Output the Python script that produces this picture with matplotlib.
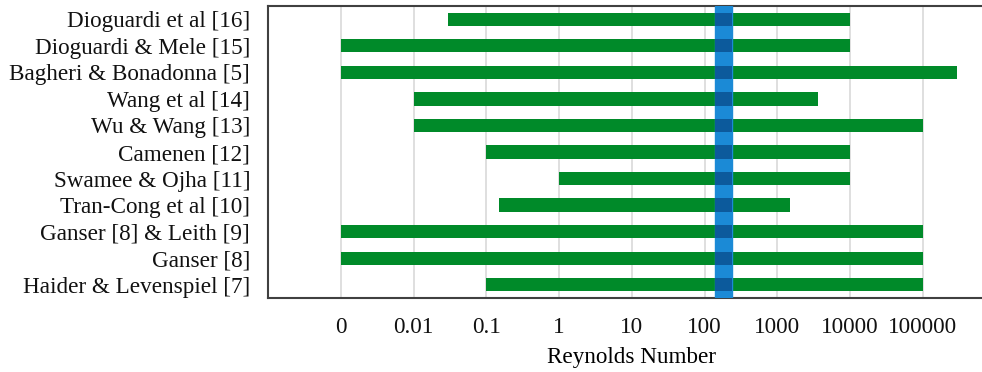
import matplotlib
matplotlib.use('Agg')
import matplotlib.pyplot as plt


# validity ranges of the drag correlations (Reynolds number)
MODELS = ['Dioguardi et al [16]', 'Dioguardi & Mele [15]',
          'Bagheri & Bonadonna [5]', 'Wang et al [14]', 'Wu & Wang [13]',
          'Camenen [12]', 'Swamee & Ojha [11]', 'Tran-Cong et al [10]',
          'Ganser [8] & Leith [9]', 'Ganser [8]', 'Haider & Levenspiel [7]']
RE_MIN = [0.03, 0.001, 0.001, 0.01, 0.01, 0.1, 1., 0.15, 0.001, 0.001, 0.1]
RE_MAX = [1e4, 1e4, 3e5, 3600., 1e5, 1e4, 1e4, 1500., 1e5, 1e5, 1e5]

# range of the experiments
RE_BAND = (140., 240.)

TICKS = [1e-3, 1e-2, 1e-1, 1., 10., 100., 1e3, 1e4, 1e5]
TICK_LABELS = ['0', '0.01', '0.1', '1', '10', '100', '1000', '10000',
               '100000']

GREEN = '#008a29'
BLUE = '#1b8ad6'
DARK_BLUE = '#0c5a9c'


plt.rcParams['font.family'] = ['Liberation Serif', 'DejaVu Serif']

fig = plt.figure(figsize=(9.82, 3.72), dpi=100)
ax = fig.add_axes([268.3 / 982, 1 - 298. / 372, 727. / 982, 292. / 372])

y = list(range(len(MODELS)))
widths = [hi - lo for lo, hi in zip(RE_MIN, RE_MAX)]
ax.barh(y, widths, left=RE_MIN, height=0.5, color=GREEN, zorder=2)
ax.axvspan(RE_BAND[0], RE_BAND[1], color=BLUE, zorder=3)
# darker where the band crosses a bar
ax.barh(y, RE_BAND[1] - RE_BAND[0], left=RE_BAND[0], height=0.5,
        color=DARK_BLUE, zorder=4)

ax.set_xscale('log')
ax.set_xlim(1e-4, 1e6)
ax.set_ylim(len(MODELS) - 0.5, -0.5)
ax.set_xticks(TICKS)
ax.set_xticklabels(TICK_LABELS)
ax.minorticks_off()
ax.set_yticks(y)
ax.set_yticklabels(MODELS)
ax.tick_params(axis='both', length=0, labelsize=16.7, colors='#111111')
ax.tick_params(axis='x', pad=14)
ax.tick_params(axis='y', pad=13)
ax.grid(axis='x', color='#d9d9d9', linewidth=1.2, zorder=0)
ax.set_axisbelow(True)
ax.set_xlabel('Reynolds Number', fontsize=16.7, labelpad=6)

for side in ('left', 'top', 'bottom'):
    ax.spines[side].set_color('#404040')
    ax.spines[side].set_linewidth(1.5)
ax.spines['right'].set_visible(False)

fig.savefig('out.png', dpi=100)
